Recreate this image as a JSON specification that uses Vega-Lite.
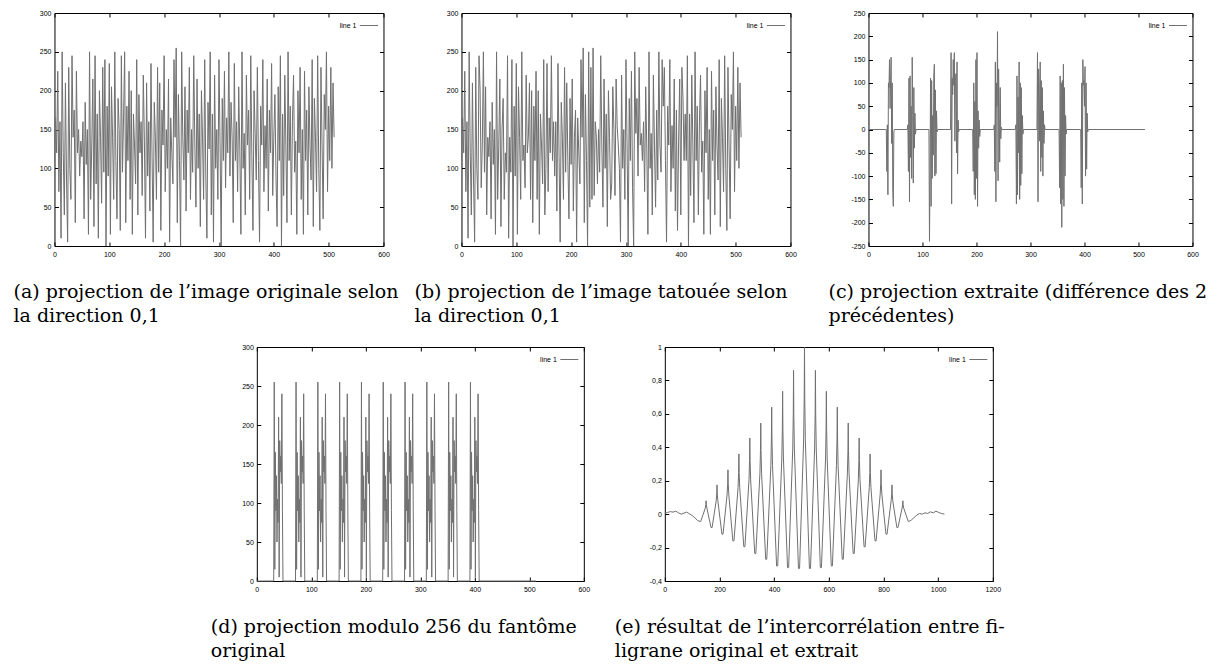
{
"$schema":"https://vega.github.io/schema/vega-lite/v6.json",
"padding":{"left":12,"top":8,"right":0,"bottom":0},
"background":"white",
"config":{
 "view":{"stroke":"black","strokeWidth":1},
 "axis":{"domain":false,"grid":false,"ticks":true,"tickSize":-4,"tickColor":"black","tickWidth":1,"labelFont":"Liberation Sans","labelFontSize":7,"labelColor":"black","labelFlush":false,"labelOverlap":false},
 "axisX":{"labelPadding":8},
 "axisY":{"labelPadding":7.5},
 "legend":{"orient":"top-right","offset":3,"padding":0,"symbolType":"stroke","symbolSize":324,"symbolStrokeWidth":1,"labelFont":"Liberation Sans","labelFontSize":7,"labelColor":"black","labelAlign":"right","labelOffset":-22},
 "title":{"font":"DejaVu Serif","fontSize":19,"fontWeight":"normal","color":"black","lineHeight":24,"orient":"bottom","anchor":"start","align":"left","baseline":"top","frame":"group","offset":26},
 "line":{"strokeWidth":1}
},
"datasets":{
"a":[{"x":0,"y":110},{"x":2,"y":165},{"x":4,"y":120},{"x":6,"y":225},{"x":8,"y":70},{"x":10,"y":160},{"x":12,"y":10},{"x":14,"y":250},{"x":16,"y":120},{"x":18,"y":40},{"x":20,"y":210},{"x":22,"y":85},{"x":24,"y":5},{"x":26,"y":230},{"x":28,"y":100},{"x":30,"y":60},
{"x":32,"y":245},{"x":34,"y":140},{"x":36,"y":175},{"x":38,"y":30},{"x":40,"y":225},{"x":42,"y":120},{"x":44,"y":150},{"x":46,"y":90},{"x":48,"y":135},{"x":50,"y":115},{"x":52,"y":160},{"x":54,"y":35},{"x":56,"y":185},{"x":58,"y":105},{"x":60,"y":150},{"x":62,"y":15},
{"x":64,"y":250},{"x":66,"y":60},{"x":68,"y":130},{"x":70,"y":215},{"x":72,"y":25},{"x":74,"y":245},{"x":76,"y":80},{"x":78,"y":170},{"x":80,"y":10},{"x":82,"y":200},{"x":84,"y":140},{"x":86,"y":55},{"x":88,"y":230},{"x":90,"y":95},{"x":92,"y":240},{"x":94,"y":0},
{"x":96,"y":180},{"x":98,"y":90},{"x":100,"y":235},{"x":102,"y":15},{"x":104,"y":205},{"x":106,"y":140},{"x":108,"y":60},{"x":110,"y":250},{"x":112,"y":110},{"x":114,"y":35},{"x":116,"y":190},{"x":118,"y":150},{"x":120,"y":20},{"x":122,"y":245},{"x":124,"y":95},{"x":126,"y":165},
{"x":128,"y":250},{"x":130,"y":30},{"x":132,"y":180},{"x":134,"y":110},{"x":136,"y":225},{"x":138,"y":60},{"x":140,"y":200},{"x":142,"y":15},{"x":144,"y":170},{"x":146,"y":130},{"x":148,"y":80},{"x":150,"y":240},{"x":152,"y":40},{"x":154,"y":195},{"x":156,"y":120},{"x":158,"y":160},
{"x":160,"y":65},{"x":162,"y":220},{"x":164,"y":135},{"x":166,"y":10},{"x":168,"y":210},{"x":170,"y":90},{"x":172,"y":160},{"x":174,"y":45},{"x":176,"y":235},{"x":178,"y":115},{"x":180,"y":5},{"x":182,"y":185},{"x":184,"y":140},{"x":186,"y":60},{"x":188,"y":230},{"x":190,"y":95},
{"x":192,"y":210},{"x":194,"y":20},{"x":196,"y":175},{"x":198,"y":130},{"x":200,"y":245},{"x":202,"y":70},{"x":204,"y":150},{"x":206,"y":100},{"x":208,"y":215},{"x":210,"y":5},{"x":212,"y":165},{"x":214,"y":120},{"x":216,"y":80},{"x":218,"y":240},{"x":220,"y":140},{"x":222,"y":255},
{"x":224,"y":30},{"x":226,"y":195},{"x":228,"y":110},{"x":230,"y":0},{"x":232,"y":250},{"x":234,"y":140},{"x":236,"y":85},{"x":238,"y":205},{"x":240,"y":45},{"x":242,"y":175},{"x":244,"y":120},{"x":246,"y":230},{"x":248,"y":60},{"x":250,"y":150},{"x":252,"y":95},{"x":254,"y":245},
{"x":256,"y":130},{"x":258,"y":50},{"x":260,"y":215},{"x":262,"y":100},{"x":264,"y":170},{"x":266,"y":25},{"x":268,"y":200},{"x":270,"y":140},{"x":272,"y":60},{"x":274,"y":240},{"x":276,"y":90},{"x":278,"y":10},{"x":280,"y":185},{"x":282,"y":125},{"x":284,"y":250},{"x":286,"y":40},
{"x":288,"y":170},{"x":290,"y":5},{"x":292,"y":220},{"x":294,"y":100},{"x":296,"y":150},{"x":298,"y":60},{"x":300,"y":240},{"x":302,"y":130},{"x":304,"y":0},{"x":306,"y":190},{"x":308,"y":110},{"x":310,"y":225},{"x":312,"y":75},{"x":314,"y":165},{"x":316,"y":120},{"x":318,"y":250},
{"x":320,"y":90},{"x":322,"y":185},{"x":324,"y":140},{"x":326,"y":30},{"x":328,"y":235},{"x":330,"y":110},{"x":332,"y":160},{"x":334,"y":70},{"x":336,"y":205},{"x":338,"y":125},{"x":340,"y":15},{"x":342,"y":250},{"x":344,"y":100},{"x":346,"y":145},{"x":348,"y":40},{"x":350,"y":220},
{"x":352,"y":130},{"x":354,"y":175},{"x":356,"y":60},{"x":358,"y":245},{"x":360,"y":115},{"x":362,"y":20},{"x":364,"y":200},{"x":366,"y":145},{"x":368,"y":85},{"x":370,"y":230},{"x":372,"y":110},{"x":374,"y":5},{"x":376,"y":180},{"x":378,"y":130},{"x":380,"y":240},{"x":382,"y":70},
{"x":384,"y":155},{"x":386,"y":100},{"x":388,"y":215},{"x":390,"y":45},{"x":392,"y":175},{"x":394,"y":120},{"x":396,"y":235},{"x":398,"y":65},{"x":400,"y":140},{"x":402,"y":195},{"x":404,"y":90},{"x":406,"y":25},{"x":408,"y":205},{"x":410,"y":110},{"x":412,"y":245},{"x":414,"y":0},
{"x":416,"y":170},{"x":418,"y":65},{"x":420,"y":220},{"x":422,"y":130},{"x":424,"y":30},{"x":426,"y":250},{"x":428,"y":110},{"x":430,"y":180},{"x":432,"y":40},{"x":434,"y":160},{"x":436,"y":220},{"x":438,"y":95},{"x":440,"y":135},{"x":442,"y":15},{"x":444,"y":200},{"x":446,"y":120},
{"x":448,"y":230},{"x":450,"y":60},{"x":452,"y":150},{"x":454,"y":15},{"x":456,"y":225},{"x":458,"y":110},{"x":460,"y":175},{"x":462,"y":40},{"x":464,"y":205},{"x":466,"y":130},{"x":468,"y":85},{"x":470,"y":240},{"x":472,"y":25},{"x":474,"y":190},{"x":476,"y":140},{"x":478,"y":70},
{"x":480,"y":245},{"x":482,"y":100},{"x":484,"y":20},{"x":486,"y":230},{"x":488,"y":130},{"x":490,"y":35},{"x":492,"y":195},{"x":494,"y":150},{"x":496,"y":250},{"x":498,"y":70},{"x":500,"y":180},{"x":502,"y":110},{"x":504,"y":230},{"x":506,"y":100},{"x":508,"y":210},{"x":510,"y":140}],
"b":[{"x":0,"y":110},{"x":2,"y":165},{"x":4,"y":120},{"x":6,"y":225},{"x":8,"y":70},{"x":10,"y":160},{"x":12,"y":10},{"x":14,"y":250},{"x":16,"y":120},{"x":18,"y":40},{"x":20,"y":210},{"x":22,"y":85},{"x":24,"y":5},{"x":26,"y":230},{"x":28,"y":100},{"x":30,"y":60},
{"x":32,"y":245},{"x":34,"y":200},{"x":36,"y":75},{"x":38,"y":130},{"x":40,"y":250},{"x":42,"y":95},{"x":44,"y":205},{"x":46,"y":40},{"x":48,"y":140},{"x":50,"y":115},{"x":52,"y":160},{"x":54,"y":35},{"x":56,"y":185},{"x":58,"y":105},{"x":60,"y":150},{"x":62,"y":15},
{"x":64,"y":250},{"x":66,"y":60},{"x":68,"y":130},{"x":70,"y":215},{"x":72,"y":25},{"x":74,"y":150},{"x":76,"y":190},{"x":78,"y":60},{"x":80,"y":120},{"x":82,"y":95},{"x":84,"y":245},{"x":86,"y":10},{"x":88,"y":140},{"x":90,"y":95},{"x":92,"y":240},{"x":94,"y":0},
{"x":96,"y":180},{"x":98,"y":90},{"x":100,"y":235},{"x":102,"y":15},{"x":104,"y":205},{"x":106,"y":140},{"x":108,"y":60},{"x":110,"y":250},{"x":112,"y":110},{"x":114,"y":130},{"x":116,"y":75},{"x":118,"y":220},{"x":120,"y":120},{"x":122,"y":140},{"x":124,"y":210},{"x":126,"y":60},
{"x":128,"y":200},{"x":130,"y":30},{"x":132,"y":180},{"x":134,"y":110},{"x":136,"y":225},{"x":138,"y":60},{"x":140,"y":200},{"x":142,"y":15},{"x":144,"y":170},{"x":146,"y":130},{"x":148,"y":80},{"x":150,"y":240},{"x":152,"y":40},{"x":154,"y":100},{"x":156,"y":235},{"x":158,"y":70},
{"x":160,"y":165},{"x":162,"y":120},{"x":164,"y":245},{"x":166,"y":110},{"x":168,"y":160},{"x":170,"y":90},{"x":172,"y":160},{"x":174,"y":45},{"x":176,"y":235},{"x":178,"y":115},{"x":180,"y":5},{"x":182,"y":185},{"x":184,"y":140},{"x":186,"y":60},{"x":188,"y":230},{"x":190,"y":95},
{"x":192,"y":210},{"x":194,"y":110},{"x":196,"y":35},{"x":198,"y":190},{"x":200,"y":105},{"x":202,"y":215},{"x":204,"y":45},{"x":206,"y":140},{"x":208,"y":175},{"x":210,"y":5},{"x":212,"y":165},{"x":214,"y":120},{"x":216,"y":80},{"x":218,"y":240},{"x":220,"y":140},{"x":222,"y":255},
{"x":224,"y":30},{"x":226,"y":195},{"x":228,"y":110},{"x":230,"y":0},{"x":232,"y":250},{"x":234,"y":50},{"x":236,"y":230},{"x":238,"y":60},{"x":240,"y":255},{"x":242,"y":65},{"x":244,"y":160},{"x":246,"y":140},{"x":248,"y":80},{"x":250,"y":150},{"x":252,"y":95},{"x":254,"y":245},
{"x":256,"y":130},{"x":258,"y":50},{"x":260,"y":215},{"x":262,"y":100},{"x":264,"y":170},{"x":266,"y":25},{"x":268,"y":200},{"x":270,"y":140},{"x":272,"y":60},{"x":274,"y":80},{"x":276,"y":205},{"x":278,"y":150},{"x":280,"y":65},{"x":282,"y":215},{"x":284,"y":155},{"x":286,"y":130},
{"x":288,"y":100},{"x":290,"y":5},{"x":292,"y":220},{"x":294,"y":100},{"x":296,"y":150},{"x":298,"y":60},{"x":300,"y":240},{"x":302,"y":130},{"x":304,"y":0},{"x":306,"y":190},{"x":308,"y":110},{"x":310,"y":225},{"x":312,"y":75},{"x":314,"y":0},{"x":316,"y":250},{"x":318,"y":145},
{"x":320,"y":190},{"x":322,"y":90},{"x":324,"y":230},{"x":326,"y":130},{"x":328,"y":145},{"x":330,"y":110},{"x":332,"y":160},{"x":334,"y":70},{"x":336,"y":205},{"x":338,"y":125},{"x":340,"y":15},{"x":342,"y":250},{"x":344,"y":100},{"x":346,"y":145},{"x":348,"y":40},{"x":350,"y":220},
{"x":352,"y":130},{"x":354,"y":50},{"x":356,"y":175},{"x":358,"y":85},{"x":360,"y":250},{"x":362,"y":130},{"x":364,"y":95},{"x":366,"y":240},{"x":368,"y":180},{"x":370,"y":230},{"x":372,"y":110},{"x":374,"y":5},{"x":376,"y":180},{"x":378,"y":130},{"x":380,"y":240},{"x":382,"y":70},
{"x":384,"y":155},{"x":386,"y":100},{"x":388,"y":215},{"x":390,"y":45},{"x":392,"y":175},{"x":394,"y":20},{"x":396,"y":135},{"x":398,"y":215},{"x":400,"y":40},{"x":402,"y":230},{"x":404,"y":190},{"x":406,"y":110},{"x":408,"y":170},{"x":410,"y":110},{"x":412,"y":245},{"x":414,"y":0},
{"x":416,"y":170},{"x":418,"y":65},{"x":420,"y":220},{"x":422,"y":130},{"x":424,"y":30},{"x":426,"y":250},{"x":428,"y":110},{"x":430,"y":180},{"x":432,"y":40},{"x":434,"y":160},{"x":436,"y":220},{"x":438,"y":95},{"x":440,"y":135},{"x":442,"y":15},{"x":444,"y":200},{"x":446,"y":120},
{"x":448,"y":230},{"x":450,"y":60},{"x":452,"y":150},{"x":454,"y":15},{"x":456,"y":225},{"x":458,"y":110},{"x":460,"y":175},{"x":462,"y":40},{"x":464,"y":205},{"x":466,"y":130},{"x":468,"y":85},{"x":470,"y":240},{"x":472,"y":25},{"x":474,"y":190},{"x":476,"y":140},{"x":478,"y":70},
{"x":480,"y":245},{"x":482,"y":100},{"x":484,"y":20},{"x":486,"y":230},{"x":488,"y":130},{"x":490,"y":35},{"x":492,"y":195},{"x":494,"y":150},{"x":496,"y":250},{"x":498,"y":70},{"x":500,"y":180},{"x":502,"y":110},{"x":504,"y":230},{"x":506,"y":100},{"x":508,"y":210},{"x":510,"y":140}],
"c":[{"x":0,"y":0},
{"x":32,"y":0},{"x":33,"y":0},{"x":34,"y":-90},{"x":35,"y":10},{"x":36,"y":-140},{"x":37,"y":100},{"x":38,"y":90},{"x":39,"y":150},{"x":40,"y":45},{"x":41,"y":105},{"x":42,"y":155},{"x":43,"y":-30},{"x":44,"y":100},{"x":45,"y":-130},{"x":46,"y":-165},{"x":47,"y":-5},{"x":48,"y":0},
{"x":72,"y":0},{"x":73,"y":10},{"x":74,"y":-90},{"x":75,"y":110},{"x":76,"y":-155},{"x":77,"y":115},{"x":78,"y":-60},{"x":79,"y":50},{"x":80,"y":-105},{"x":81,"y":155},{"x":82,"y":30},{"x":83,"y":-115},{"x":84,"y":90},{"x":85,"y":-40},{"x":86,"y":35},{"x":87,"y":-10},{"x":88,"y":0},
{"x":112,"y":0},{"x":113,"y":-240},{"x":114,"y":-90},{"x":115,"y":110},{"x":116,"y":-165},{"x":117,"y":105},{"x":118,"y":-105},{"x":119,"y":30},{"x":120,"y":-55},{"x":121,"y":115},{"x":122,"y":140},{"x":123,"y":-100},{"x":124,"y":85},{"x":125,"y":-95},{"x":126,"y":40},{"x":127,"y":-5},{"x":128,"y":0},
{"x":152,"y":0},{"x":153,"y":165},{"x":154,"y":-160},{"x":155,"y":110},{"x":156,"y":75},{"x":157,"y":150},{"x":158,"y":95},{"x":159,"y":165},{"x":160,"y":-25},{"x":161,"y":105},{"x":162,"y":120},{"x":163,"y":-50},{"x":164,"y":145},{"x":165,"y":-95},{"x":166,"y":20},{"x":167,"y":-5},{"x":168,"y":0},
{"x":192,"y":0},{"x":193,"y":0},{"x":194,"y":-90},{"x":195,"y":100},{"x":196,"y":-140},{"x":197,"y":60},{"x":198,"y":-150},{"x":199,"y":150},{"x":200,"y":-105},{"x":201,"y":165},{"x":202,"y":-165},{"x":203,"y":40},{"x":204,"y":-40},{"x":205,"y":20},{"x":206,"y":-15},{"x":207,"y":0},
{"x":232,"y":0},{"x":233,"y":10},{"x":234,"y":-90},{"x":235,"y":145},{"x":236,"y":-155},{"x":237,"y":100},{"x":238,"y":50},{"x":239,"y":210},{"x":240,"y":-110},{"x":241,"y":130},{"x":242,"y":40},{"x":243,"y":-70},{"x":244,"y":90},{"x":245,"y":-20},{"x":246,"y":5},{"x":247,"y":0},
{"x":272,"y":0},{"x":273,"y":10},{"x":274,"y":-160},{"x":275,"y":115},{"x":276,"y":-140},{"x":277,"y":70},{"x":278,"y":-50},{"x":279,"y":145},{"x":280,"y":-150},{"x":281,"y":100},{"x":282,"y":-120},{"x":283,"y":90},{"x":284,"y":-95},{"x":285,"y":30},{"x":286,"y":-10},{"x":287,"y":0},
{"x":312,"y":0},{"x":313,"y":165},{"x":314,"y":-155},{"x":315,"y":130},{"x":316,"y":95},{"x":317,"y":-25},{"x":318,"y":145},{"x":319,"y":-90},{"x":320,"y":105},{"x":321,"y":-60},{"x":322,"y":90},{"x":323,"y":-100},{"x":324,"y":40},{"x":325,"y":-30},{"x":326,"y":10},{"x":327,"y":0},
{"x":352,"y":0},{"x":353,"y":0},{"x":354,"y":-125},{"x":355,"y":115},{"x":356,"y":-160},{"x":357,"y":100},{"x":358,"y":-210},{"x":359,"y":105},{"x":360,"y":-150},{"x":361,"y":140},{"x":362,"y":-165},{"x":363,"y":90},{"x":364,"y":-100},{"x":365,"y":30},{"x":366,"y":-10},{"x":367,"y":0},
{"x":392,"y":0},{"x":393,"y":0},{"x":394,"y":-125},{"x":395,"y":100},{"x":396,"y":-160},{"x":397,"y":150},{"x":398,"y":95},{"x":399,"y":105},{"x":400,"y":50},{"x":401,"y":135},{"x":402,"y":-100},{"x":403,"y":100},{"x":404,"y":-85},{"x":405,"y":35},{"x":406,"y":-5},{"x":407,"y":0},
{"x":512,"y":0}],
"d":[{"x":0,"y":0},
{"x":31,"y":0},{"x":32,"y":255},{"x":33,"y":15},{"x":34,"y":165},{"x":35,"y":90},{"x":36,"y":135},{"x":37,"y":50},{"x":38,"y":105},{"x":39,"y":75},{"x":40,"y":210},{"x":41,"y":5},{"x":42,"y":180},{"x":43,"y":140},{"x":44,"y":160},{"x":45,"y":125},{"x":46,"y":240},{"x":47,"y":90},{"x":48,"y":0},
{"x":71,"y":0},{"x":72,"y":255},{"x":73,"y":15},{"x":74,"y":165},{"x":75,"y":90},{"x":76,"y":135},{"x":77,"y":50},{"x":78,"y":105},{"x":79,"y":75},{"x":80,"y":210},{"x":81,"y":5},{"x":82,"y":180},{"x":83,"y":140},{"x":84,"y":160},{"x":85,"y":125},{"x":86,"y":240},{"x":87,"y":90},{"x":88,"y":0},
{"x":111,"y":0},{"x":112,"y":255},{"x":113,"y":15},{"x":114,"y":165},{"x":115,"y":90},{"x":116,"y":135},{"x":117,"y":50},{"x":118,"y":105},{"x":119,"y":75},{"x":120,"y":210},{"x":121,"y":5},{"x":122,"y":180},{"x":123,"y":140},{"x":124,"y":160},{"x":125,"y":125},{"x":126,"y":240},{"x":127,"y":90},{"x":128,"y":0},
{"x":151,"y":0},{"x":152,"y":255},{"x":153,"y":15},{"x":154,"y":165},{"x":155,"y":90},{"x":156,"y":135},{"x":157,"y":50},{"x":158,"y":105},{"x":159,"y":75},{"x":160,"y":210},{"x":161,"y":5},{"x":162,"y":180},{"x":163,"y":140},{"x":164,"y":160},{"x":165,"y":125},{"x":166,"y":240},{"x":167,"y":90},{"x":168,"y":0},
{"x":191,"y":0},{"x":192,"y":255},{"x":193,"y":15},{"x":194,"y":165},{"x":195,"y":90},{"x":196,"y":135},{"x":197,"y":50},{"x":198,"y":105},{"x":199,"y":75},{"x":200,"y":210},{"x":201,"y":5},{"x":202,"y":180},{"x":203,"y":140},{"x":204,"y":160},{"x":205,"y":125},{"x":206,"y":240},{"x":207,"y":90},{"x":208,"y":0},
{"x":231,"y":0},{"x":232,"y":255},{"x":233,"y":15},{"x":234,"y":165},{"x":235,"y":90},{"x":236,"y":135},{"x":237,"y":50},{"x":238,"y":105},{"x":239,"y":75},{"x":240,"y":210},{"x":241,"y":5},{"x":242,"y":180},{"x":243,"y":140},{"x":244,"y":160},{"x":245,"y":125},{"x":246,"y":240},{"x":247,"y":90},{"x":248,"y":0},
{"x":271,"y":0},{"x":272,"y":255},{"x":273,"y":15},{"x":274,"y":165},{"x":275,"y":90},{"x":276,"y":135},{"x":277,"y":50},{"x":278,"y":105},{"x":279,"y":75},{"x":280,"y":210},{"x":281,"y":5},{"x":282,"y":180},{"x":283,"y":140},{"x":284,"y":160},{"x":285,"y":125},{"x":286,"y":240},{"x":287,"y":90},{"x":288,"y":0},
{"x":311,"y":0},{"x":312,"y":255},{"x":313,"y":15},{"x":314,"y":165},{"x":315,"y":90},{"x":316,"y":135},{"x":317,"y":50},{"x":318,"y":105},{"x":319,"y":75},{"x":320,"y":210},{"x":321,"y":5},{"x":322,"y":180},{"x":323,"y":140},{"x":324,"y":160},{"x":325,"y":125},{"x":326,"y":240},{"x":327,"y":90},{"x":328,"y":0},
{"x":351,"y":0},{"x":352,"y":255},{"x":353,"y":15},{"x":354,"y":165},{"x":355,"y":90},{"x":356,"y":135},{"x":357,"y":50},{"x":358,"y":105},{"x":359,"y":75},{"x":360,"y":210},{"x":361,"y":5},{"x":362,"y":180},{"x":363,"y":140},{"x":364,"y":160},{"x":365,"y":125},{"x":366,"y":240},{"x":367,"y":90},{"x":368,"y":0},
{"x":391,"y":0},{"x":392,"y":255},{"x":393,"y":15},{"x":394,"y":165},{"x":395,"y":90},{"x":396,"y":135},{"x":397,"y":50},{"x":398,"y":105},{"x":399,"y":75},{"x":400,"y":210},{"x":401,"y":5},{"x":402,"y":180},{"x":403,"y":140},{"x":404,"y":160},{"x":405,"y":125},{"x":406,"y":240},{"x":407,"y":90},{"x":408,"y":0},
{"x":512,"y":0}],
"e":[{"x":0,"y":0.005},{"x":10,"y":0.01},{"x":20,"y":0.015},{"x":30,"y":0.012},{"x":40,"y":0.018},{"x":50,"y":0.008},{"x":60,"y":0.0},{"x":70,"y":0.006},{"x":80,"y":0.012},{"x":90,"y":0.002},{"x":100,"y":-0.008},{"x":110,"y":-0.022},{"x":120,"y":-0.038},{"x":131,"y":-0.045},
{"x":148,"y":0.036},{"x":150,"y":0.056},{"x":151,"y":0.08},{"x":152,"y":0.056},{"x":154,"y":0.036},
{"x":169,"y":-0.08},{"x":173,"y":-0.08},
{"x":188,"y":0.08},{"x":190,"y":0.12},{"x":191,"y":0.175},{"x":192,"y":0.12},{"x":194,"y":0.08},
{"x":209,"y":-0.12},{"x":213,"y":-0.12},
{"x":228,"y":0.12},{"x":230,"y":0.185},{"x":231,"y":0.265},{"x":232,"y":0.185},{"x":234,"y":0.12},
{"x":249,"y":-0.16},{"x":253,"y":-0.16},
{"x":268,"y":0.16},{"x":270,"y":0.25},{"x":271,"y":0.36},{"x":272,"y":0.25},{"x":274,"y":0.16},
{"x":289,"y":-0.195},{"x":293,"y":-0.195},
{"x":308,"y":0.205},{"x":310,"y":0.32},{"x":311,"y":0.455},{"x":312,"y":0.32},{"x":314,"y":0.205},
{"x":329,"y":-0.235},{"x":333,"y":-0.235},
{"x":348,"y":0.245},{"x":350,"y":0.38},{"x":351,"y":0.545},{"x":352,"y":0.38},{"x":354,"y":0.245},
{"x":369,"y":-0.27},{"x":373,"y":-0.27},
{"x":388,"y":0.29},{"x":390,"y":0.45},{"x":391,"y":0.64},{"x":392,"y":0.45},{"x":394,"y":0.29},
{"x":409,"y":-0.31},{"x":413,"y":-0.31},
{"x":428,"y":0.33},{"x":430,"y":0.51},{"x":431,"y":0.735},{"x":432,"y":0.51},{"x":434,"y":0.33},
{"x":449,"y":-0.32},{"x":453,"y":-0.32},
{"x":468,"y":0.39},{"x":470,"y":0.6},{"x":471,"y":0.86},{"x":472,"y":0.6},{"x":474,"y":0.39},
{"x":489,"y":-0.325},{"x":493,"y":-0.325},
{"x":508,"y":0.45},{"x":510,"y":0.7},{"x":511,"y":1.0},{"x":512,"y":0.7},{"x":514,"y":0.45},
{"x":529,"y":-0.325},{"x":533,"y":-0.325},
{"x":548,"y":0.39},{"x":550,"y":0.6},{"x":551,"y":0.86},{"x":552,"y":0.6},{"x":554,"y":0.39},
{"x":569,"y":-0.32},{"x":573,"y":-0.32},
{"x":588,"y":0.33},{"x":590,"y":0.51},{"x":591,"y":0.735},{"x":592,"y":0.51},{"x":594,"y":0.33},
{"x":609,"y":-0.31},{"x":613,"y":-0.31},
{"x":628,"y":0.29},{"x":630,"y":0.45},{"x":631,"y":0.64},{"x":632,"y":0.45},{"x":634,"y":0.29},
{"x":649,"y":-0.27},{"x":653,"y":-0.27},
{"x":668,"y":0.245},{"x":670,"y":0.38},{"x":671,"y":0.545},{"x":672,"y":0.38},{"x":674,"y":0.245},
{"x":689,"y":-0.235},{"x":693,"y":-0.235},
{"x":708,"y":0.205},{"x":710,"y":0.32},{"x":711,"y":0.455},{"x":712,"y":0.32},{"x":714,"y":0.205},
{"x":729,"y":-0.195},{"x":733,"y":-0.195},
{"x":748,"y":0.16},{"x":750,"y":0.25},{"x":751,"y":0.36},{"x":752,"y":0.25},{"x":754,"y":0.16},
{"x":769,"y":-0.16},{"x":773,"y":-0.16},
{"x":788,"y":0.12},{"x":790,"y":0.185},{"x":791,"y":0.265},{"x":792,"y":0.185},{"x":794,"y":0.12},
{"x":809,"y":-0.12},{"x":813,"y":-0.12},
{"x":828,"y":0.08},{"x":830,"y":0.12},{"x":831,"y":0.175},{"x":832,"y":0.12},{"x":834,"y":0.08},
{"x":849,"y":-0.08},{"x":853,"y":-0.08},
{"x":868,"y":0.036},{"x":870,"y":0.056},{"x":871,"y":0.08},{"x":872,"y":0.056},{"x":874,"y":0.036},
{"x":891,"y":-0.045},{"x":902,"y":-0.035},{"x":912,"y":-0.02},{"x":922,"y":-0.006},{"x":932,"y":0.004},{"x":942,"y":0.0},{"x":952,"y":0.008},{"x":962,"y":0.004},{"x":972,"y":0.014},{"x":982,"y":0.008},{"x":992,"y":0.018},{"x":1002,"y":0.01},{"x":1012,"y":0.004},{"x":1023,"y":0.0}]
},
"vconcat":[
{"hconcat":[
 {"width":329,"height":233,"data":{"name":"a"},
  "title":{"text":["(a) projection de l’image originale selon","la direction 0,1"],"dx":-41},
  "layer":[
   {"mark":{"type":"line"},"encoding":{
     "x":{"field":"x","type":"quantitative","scale":{"domain":[0,600],"nice":false},"axis":{"title":null,"values":[0,100,200,300,400,500,600]}},
     "y":{"field":"y","type":"quantitative","scale":{"domain":[0,300],"nice":false},"axis":{"title":null,"values":[0,50,100,150,200,250,300]}},
     "color":{"datum":"line 1","type":"nominal","scale":{"range":["#707070"]},"legend":{"title":null}}}},
   {"mark":{"type":"line","opacity":0},"encoding":{
     "x":{"field":"x","type":"quantitative","scale":{"domain":[0,600],"nice":false},"axis":{"title":null,"orient":"top","labels":false,"values":[0,100,200,300,400,500,600]}},
     "y":{"field":"y","type":"quantitative","scale":{"domain":[0,300],"nice":false},"axis":{"title":null,"orient":"right","labels":false,"values":[0,50,100,150,200,250,300]}}}}
  ],
  "resolve":{"axis":{"x":"independent","y":"independent"}}},
 {"width":329,"height":233,"data":{"name":"b"},
  "title":{"text":["(b) projection de l’image tatouée selon","la direction 0,1"],"dx":-47},
  "layer":[
   {"mark":{"type":"line"},"encoding":{
     "x":{"field":"x","type":"quantitative","scale":{"domain":[0,600],"nice":false},"axis":{"title":null,"values":[0,100,200,300,400,500,600]}},
     "y":{"field":"y","type":"quantitative","scale":{"domain":[0,300],"nice":false},"axis":{"title":null,"values":[0,50,100,150,200,250,300]}},
     "color":{"datum":"line 1","type":"nominal","scale":{"range":["#707070"]},"legend":{"title":null}}}},
   {"mark":{"type":"line","opacity":0},"encoding":{
     "x":{"field":"x","type":"quantitative","scale":{"domain":[0,600],"nice":false},"axis":{"title":null,"orient":"top","labels":false,"values":[0,100,200,300,400,500,600]}},
     "y":{"field":"y","type":"quantitative","scale":{"domain":[0,300],"nice":false},"axis":{"title":null,"orient":"right","labels":false,"values":[0,50,100,150,200,250,300]}}}}
  ],
  "resolve":{"axis":{"x":"independent","y":"independent"}}},
 {"width":324,"height":233,"data":{"name":"c"},
  "title":{"text":["(c) projection extraite (différence des 2","précédentes)"],"dx":-40},
  "layer":[
   {"mark":{"type":"line"},"encoding":{
     "x":{"field":"x","type":"quantitative","scale":{"domain":[0,600],"nice":false},"axis":{"title":null,"values":[0,100,200,300,400,500,600]}},
     "y":{"field":"y","type":"quantitative","scale":{"domain":[-250,250],"nice":false,"zero":false},"axis":{"title":null,"values":[-250,-200,-150,-100,-50,0,50,100,150,200,250],"labelExpr":"(datum.value < 0 ? '-' : '') + abs(datum.value)"}},
     "color":{"datum":"line 1","type":"nominal","scale":{"range":["#707070"]},"legend":{"title":null}}}},
   {"mark":{"type":"line","opacity":0},"encoding":{
     "x":{"field":"x","type":"quantitative","scale":{"domain":[0,600],"nice":false},"axis":{"title":null,"orient":"top","labels":false,"values":[0,100,200,300,400,500,600]}},
     "y":{"field":"y","type":"quantitative","scale":{"domain":[-250,250],"nice":false,"zero":false},"axis":{"title":null,"orient":"right","labels":false,"values":[-250,-200,-150,-100,-50,0,50,100,150,200,250]}}}}
  ],
  "resolve":{"axis":{"x":"independent","y":"independent"}}}
 ],
 "spacing":78,"bounds":"flush",
 "resolve":{"scale":{"x":"independent","y":"independent","color":"independent"},"axis":{"x":"independent","y":"independent"},"legend":{"color":"independent"}}},
{"hconcat":[
 {"width":327,"height":234,"data":{"name":"d"},
  "title":{"text":["(d) projection modulo 256 du fantôme","original"],"dx":-46},
  "layer":[
   {"mark":{"type":"line"},"encoding":{
     "x":{"field":"x","type":"quantitative","scale":{"domain":[0,600],"nice":false},"axis":{"title":null,"values":[0,100,200,300,400,500,600]}},
     "y":{"field":"y","type":"quantitative","scale":{"domain":[0,300],"nice":false},"axis":{"title":null,"values":[0,50,100,150,200,250,300]}},
     "color":{"datum":"line 1","type":"nominal","scale":{"range":["#707070"]},"legend":{"title":null}}}},
   {"mark":{"type":"line","opacity":0},"encoding":{
     "x":{"field":"x","type":"quantitative","scale":{"domain":[0,600],"nice":false},"axis":{"title":null,"orient":"top","labels":false,"values":[0,100,200,300,400,500,600]}},
     "y":{"field":"y","type":"quantitative","scale":{"domain":[0,300],"nice":false},"axis":{"title":null,"orient":"right","labels":false,"values":[0,50,100,150,200,250,300]}}}}
  ],
  "resolve":{"axis":{"x":"independent","y":"independent"}}},
 {"width":328,"height":234,"data":{"name":"e"},
  "title":{"text":["(e) résultat de l’intercorrélation entre fi-","ligrane original et extrait"],"dx":-50},
  "layer":[
   {"mark":{"type":"line"},"encoding":{
     "x":{"field":"x","type":"quantitative","scale":{"domain":[0,1200],"nice":false},"axis":{"title":null,"format":"d","values":[0,200,400,600,800,1000,1200]}},
     "y":{"field":"y","type":"quantitative","scale":{"domain":[-0.4,1],"nice":false,"zero":false},"axis":{"title":null,"values":[-0.4,-0.2,0,0.2,0.4,0.6,0.8,1],"labelExpr":"datum.value == 0 ? '0' : datum.value == 1 ? '1' : (datum.value < 0 ? '-' : '') + replace(format(abs(datum.value), '.1f'), '.', ',')"}},
     "color":{"datum":"line 1","type":"nominal","scale":{"range":["#707070"]},"legend":{"title":null}}}},
   {"mark":{"type":"line","opacity":0},"encoding":{
     "x":{"field":"x","type":"quantitative","scale":{"domain":[0,1200],"nice":false},"axis":{"title":null,"orient":"top","labels":false,"values":[0,200,400,600,800,1000,1200]}},
     "y":{"field":"y","type":"quantitative","scale":{"domain":[-0.4,1],"nice":false,"zero":false},"axis":{"title":null,"orient":"right","labels":false,"values":[-0.4,-0.2,0,0.2,0.4,0.6,0.8,1]}}}}
  ],
  "resolve":{"axis":{"x":"independent","y":"independent"}}}
 ],
 "spacing":81,"bounds":"flush",
 "resolve":{"scale":{"x":"independent","y":"independent","color":"independent"},"axis":{"x":"independent","y":"independent"},"legend":{"color":"independent"}}}
],
"spacing":15,
"center":true
}
